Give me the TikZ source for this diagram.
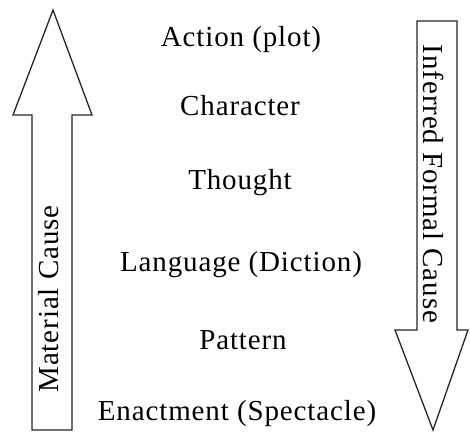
\documentclass[tikz,border=0pt]{standalone}
\usepackage{fontspec}
\setmainfont[LetterSpace=3]{Liberation Serif}
\begin{document}
\begin{tikzpicture}[x=1pt,y=-1pt,
  outline/.style={draw=black!85,line width=1.3pt,fill=white,line join=miter},
  level/.style={font=\fontsize{29}{32}\selectfont,anchor=center,inner sep=0pt},
  causelabel/.style={font=\fontsize{29}{32}\selectfont,inner sep=0pt}]
  \useasboundingbox (0,0) rectangle (470,435);
  % upward arrow: material cause
  \draw[outline] (32,430) -- (32,115) -- (13,115) -- (53,10) -- (92,115)
    -- (72,115) -- (72,430) -- cycle;
  \node[causelabel,rotate=90] (material) at (49,299) {Material Cause};
  % downward arrow: inferred formal cause
  \draw[outline] (417,21) -- (457,21) -- (457,330) -- (468,330) -- (433,430)
    -- (395,330) -- (417,330) -- cycle;
  \node[causelabel,rotate=-90] (formal) at (434,184) {Inferred Formal Cause};
  % the six parts
  \node[level] (action)    at (241,40)  {Action (plot)};
  \node[level] (character) at (240,106) {Character};
  \node[level] (thought)   at (240,183) {Thought};
  \node[level] (language)  at (241,265) {Language (Diction)};
  \node[level] (pattern)   at (243,340) {Pattern};
  \node[level] (enactment) at (237,414) {Enactment (Spectacle)};
\end{tikzpicture}
\end{document}
